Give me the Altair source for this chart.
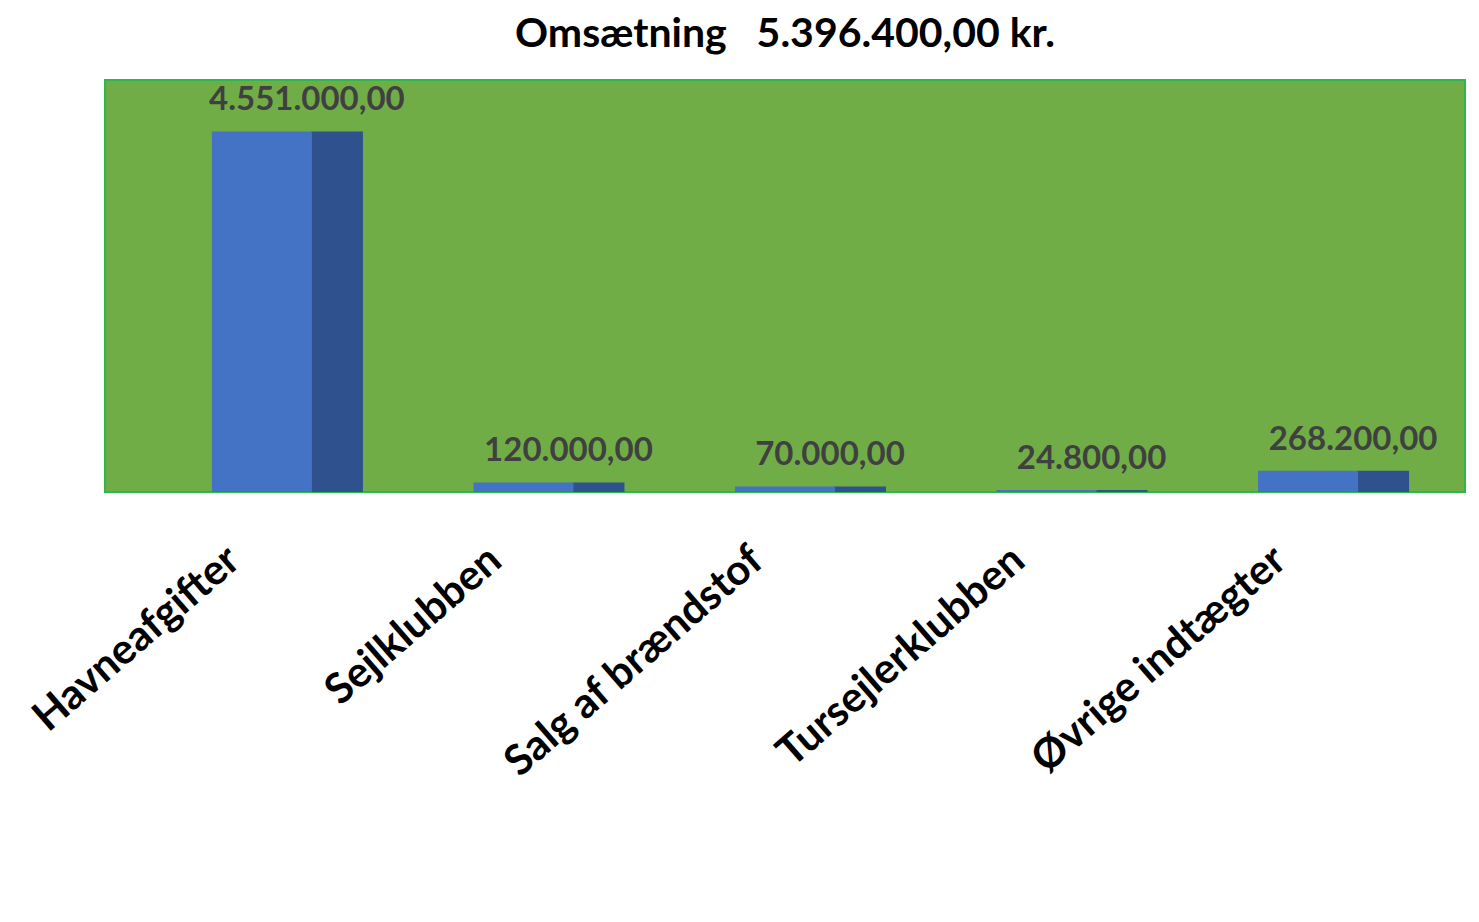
import altair as alt
import pandas as pd

categories = ["Havneafgifter", "Sejlklubben", "Salg af brændstof", "Tursejlerklubben", "Øvrige indtægter"]
values = [4551000, 120000, 70000, 24800, 268200]
value_labels = ["4.551.000,00", "120.000,00", "70.000,00", "24.800,00", "268.200,00"]
title_text = "Omsætning\u00a0\u00a0\u00a05.396.400,00 kr."

df = pd.DataFrame({"kategori": categories, "beløb": values, "etiket": value_labels})

FONT = "Lato"

x_enc = alt.X(
    "kategori:N",
    sort=categories,
    title=None,
    scale=alt.Scale(paddingInner=0.0, paddingOuter=0.1),
    axis=alt.Axis(
        labelAngle=-41,
        labelAlign="right",
        labelBaseline="middle",
        labelFont=FONT,
        labelFontSize=42,
        labelFontWeight="bold",
        labelColor="#000000",
        labelPadding=62,
        labelOffset=-28,
        labelLimit=600,
        domain=False,
        ticks=False,
        grid=False,
    ),
)
y_enc = alt.Y("beløb:Q", axis=None, scale=alt.Scale(domain=[0, 5200000]))

base = alt.Chart(df).encode(x=x_enc, y=y_enc)

side = base.mark_bar(size=52, xOffset=75, color="#2F528F")
front = base.mark_bar(size=100, color="#4472C4")

text = base.mark_text(
    dy=-14,
    dx=45,
    font=FONT,
    fontSize=33,
    fontWeight="bold",
    color="#404040",
    baseline="bottom",
).encode(text="etiket:N")

chart = (
    alt.layer(side, front, text)
    .properties(
        width=1360,
        height=412,
        autosize=alt.AutoSizeParams(type="none"),
        padding={"left": 97, "top": 72, "right": 5, "bottom": 420},
        title=alt.TitleParams(
            text=title_text,
            font=FONT,
            fontSize=41,
            fontWeight="bold",
            color="#000000",
            anchor="middle",
            offset=24,
        ),
    )
    .configure_view(fill="#70AD47", stroke="#2DB84B", strokeWidth=2)
)

chart.save("out.html", embed_options={"renderer": "svg", "actions": False})
